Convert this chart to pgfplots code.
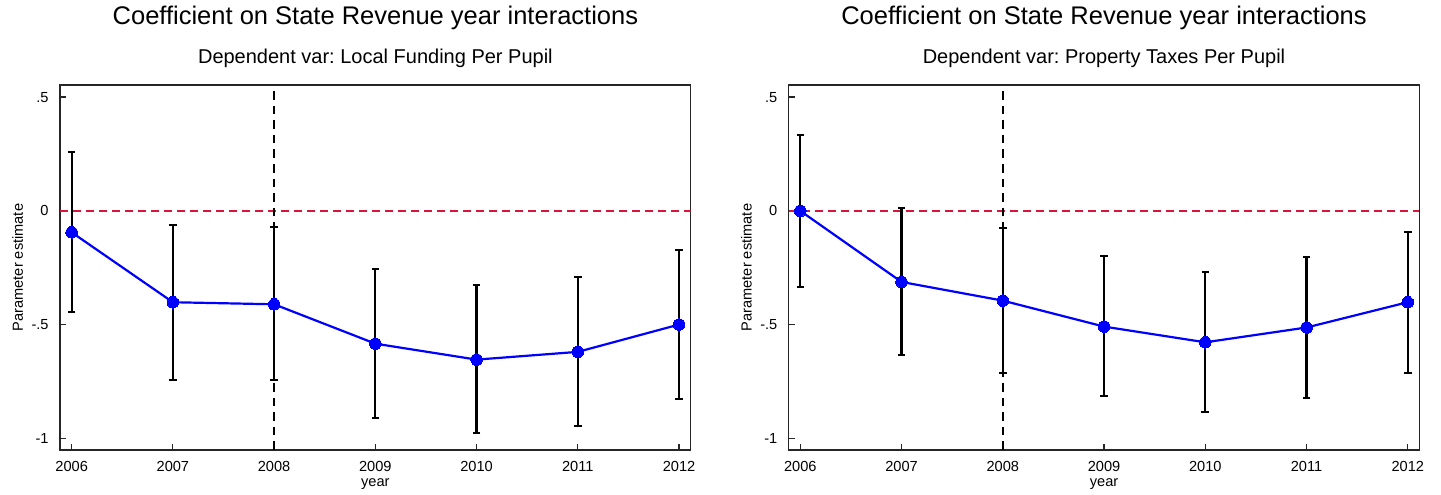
\documentclass[border=0pt]{standalone}
\usepackage{fontspec}
\setmainfont{Liberation Sans}
\usepackage{pgfplots}
\usepackage{pgfplotstable}
\pgfplotsset{compat=1.18}
\definecolor{refred}{RGB}{220,20,60}
\definecolor{ptblue}{RGB}{0,0,255}
\frenchspacing

\pgfplotstableread{
year est lo hi
2006 -0.094 -0.445 0.259
2007 -0.401 -0.741 -0.060
2008 -0.410 -0.742 -0.072
2009 -0.583 -0.911 -0.256
2010 -0.653 -0.977 -0.326
2011 -0.619 -0.944 -0.291
2012 -0.499 -0.826 -0.173
}\localdata

\pgfplotstableread{
year est lo hi
2006 0.000 -0.332 0.335
2007 -0.312 -0.632 0.012
2008 -0.394 -0.710 -0.073
2009 -0.508 -0.815 -0.196
2010 -0.577 -0.883 -0.268
2011 -0.512 -0.821 -0.202
2012 -0.401 -0.710 -0.091
}\propdata

\pgfplotsset{
  coefstyle/.style={
    scale only axis, width=315.35pt, height=182.5pt,
    xmin=2005.885, xmax=2012.115, ymin=-1.05, ymax=0.553,
    xtick={2006,2007,2008,2009,2010,2011,2012},
    xticklabels={2006,2007,2008,2009,2010,2011,2012},
    ytick={-1,-0.5,0,0.5}, yticklabels={-1,-.5,0,.5},
    tick align=inside, tick pos=left, major tick length=3.2pt,
    axis line style={black!85, line width=0.6pt},
    every tick/.style={black!85, line width=0.6pt},
    tick label style={font=\fontsize{7.3}{8.5}\selectfont},
    /pgf/number format/assume math mode=true,
    xticklabel style={anchor=base, yshift=-10.85pt, inner sep=0pt},
    yticklabel style={anchor=east, xshift=-5.5pt, inner sep=0pt},
    xlabel={year}, ylabel={Parameter estimate},
    label style={font=\fontsize{7.3}{8.5}\selectfont},
    xlabel style={at={(axis description cs:0.5,0)}, anchor=base, yshift=-18.35pt, inner sep=0pt},
    ylabel style={at={(axis description cs:-0.0587,0.5)}, anchor=base, inner sep=0pt},
  },
  errstyle/.style={only marks, mark=none,
    error bars/.cd, y dir=both, y explicit, error mark=|,
    error bar style={line width=1.1pt, black},
    error mark options={black, line width=1pt, mark size=1.9pt}},
  estline/.style={ptblue, line width=1.1pt, mark=*, mark size=2.9pt,
    mark options={fill=ptblue, draw=ptblue, line width=0pt}},
}

\begin{document}
\begin{tikzpicture}
\useasboundingbox (0,0) rectangle (720.5pt,247pt);

\node[anchor=base, font=\fontsize{12.75}{15}\selectfont] at (187.7pt,234.5pt) {Coefficient on State Revenue year interactions};
\node[anchor=base, font=\fontsize{10}{12}\selectfont] at (187.7pt,215.35pt) {Dependent var: Local Funding Per Pupil};
\node[anchor=base, font=\fontsize{12.75}{15}\selectfont] at (552pt,234.5pt) {Coefficient on State Revenue year interactions};
\node[anchor=base, font=\fontsize{10}{12}\selectfont] at (552pt,215.35pt) {Dependent var: Property Taxes Per Pupil};

\begin{axis}[coefstyle, at={(30pt,22pt)}, anchor=south west]
  \addplot[refred, line width=0.6pt, dash pattern=on 4pt off 2.5pt] coordinates {(2005.885,0) (2012.115,0)};
  \addplot[black, line width=0.7pt, dash pattern=on 4.3pt off 3pt] coordinates {(2008,-1.05) (2008,0.553)};
  \addplot[errstyle] table[x=year, y=est,
     y error plus expr=\thisrow{hi}-\thisrow{est},
     y error minus expr=\thisrow{est}-\thisrow{lo}] {\localdata};
  \addplot[estline] table[x=year, y=est] {\localdata};
\end{axis}

\begin{axis}[coefstyle, at={(394.35pt,22pt)}, anchor=south west]
  \addplot[refred, line width=0.6pt, dash pattern=on 4pt off 2.5pt] coordinates {(2005.885,0) (2012.115,0)};
  \addplot[black, line width=0.7pt, dash pattern=on 4.3pt off 3pt] coordinates {(2008,-1.05) (2008,0.553)};
  \addplot[errstyle] table[x=year, y=est,
     y error plus expr=\thisrow{hi}-\thisrow{est},
     y error minus expr=\thisrow{est}-\thisrow{lo}] {\propdata};
  \addplot[estline] table[x=year, y=est] {\propdata};
\end{axis}
\end{tikzpicture}
\end{document}
